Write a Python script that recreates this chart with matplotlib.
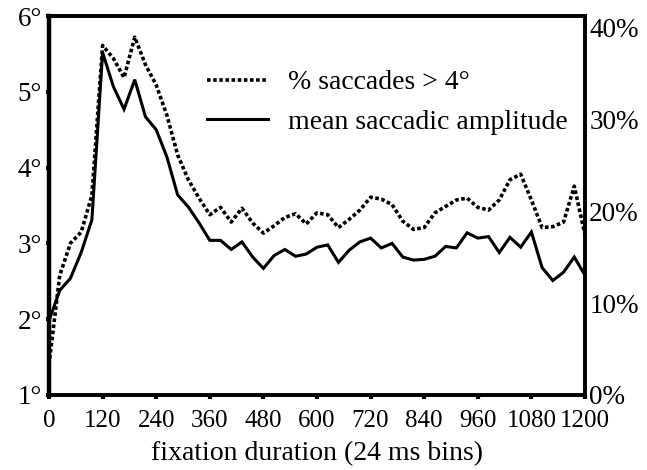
import numpy as np
import matplotlib
matplotlib.use('Agg')
import matplotlib.pyplot as plt

plt.rcParams['font.family'] = ['Liberation Serif', 'DejaVu Serif']

# 24 ms bins, 0 .. 1200 ms
bins = np.arange(0, 1201, 24)

# mean saccadic amplitude (degrees, left axis)
mean_amp = [1.98, 2.38, 2.54, 2.88, 3.31, 5.52, 5.07, 4.77, 5.16, 4.67,
            4.50, 4.14, 3.64, 3.48, 3.27, 3.04, 3.04, 2.92, 3.02, 2.82,
            2.67, 2.84, 2.92, 2.83, 2.86, 2.95, 2.98, 2.75, 2.91, 3.02,
            3.07, 2.94, 3.00, 2.82, 2.78, 2.79, 2.83, 2.96, 2.94, 3.14,
            3.07, 3.09, 2.88, 3.08, 2.95, 3.15, 2.68, 2.51, 2.62, 2.82,
            2.58]

# % saccades > 4 deg (right axis)
pct_big = [3.3, 13.0, 16.5, 17.7, 21.7, 38.0, 36.6, 34.5, 38.9, 35.9,
           33.7, 30.4, 26.1, 23.4, 21.4, 19.6, 20.4, 18.8, 20.3, 18.7,
           17.6, 18.4, 19.3, 19.7, 18.6, 19.8, 19.6, 18.2, 19.1, 20.1,
           21.5, 21.3, 20.7, 18.9, 18.0, 18.2, 19.8, 20.5, 21.2, 21.4,
           20.4, 20.1, 21.2, 23.4, 24.0, 21.2, 18.2, 18.3, 18.8, 22.7,
           17.4]

xticks = list(range(0, 1201, 120))
left_ticks = [1, 2, 3, 4, 5, 6]
right_ticks = [0, 10, 20, 30, 40]

fig = plt.figure(figsize=(6.47, 4.70), dpi=100)
ax = fig.add_axes([49 / 647, 1 - 395 / 470, 536 / 647, 379 / 470])
ax2 = ax.twinx()

l_amp, = ax.plot(bins, mean_amp, color='black', lw=2.2, solid_joinstyle='miter')
l_pct, = ax2.plot(bins, pct_big, color='black', lw=2.6,
                  linestyle=(0, (1, 0.7)), dash_capstyle='butt')

ax.set_xlim(0, 1200)
ax.set_ylim(1, 6)
ax2.set_ylim(0, 41.2)

ax.set_xticks(xticks)
ax.set_xticklabels([str(t) for t in xticks], fontsize=18)
ax.set_yticks(left_ticks)
ax.set_yticklabels([f'{t}°' for t in left_ticks], fontsize=19.5)
ax2.set_yticks(right_ticks)
ax2.set_yticklabels([f'{t}%' for t in right_ticks], fontsize=19.5)

ax.tick_params(axis='x', direction='out', length=3, width=3, pad=8)
ax.tick_params(axis='y', direction='out', length=2, width=3, pad=3)
ax2.tick_params(axis='y', direction='out', length=0, width=3, pad=3)

for a in (ax, ax2):
    for s in a.spines.values():
        s.set_linewidth(2.6)
ax.spines['left'].set_linewidth(3.2)

ax.set_xlabel('fixation duration (24 ms bins)', fontsize=20, labelpad=6)

ax2.legend([l_pct, l_amp], ['% saccades > 4°', 'mean saccadic amplitude'],
           loc='center left', bbox_to_anchor=(0.295, 0.772), frameon=False,
           fontsize=20, handlelength=2.2, handletextpad=0.72,
           labelspacing=0.5, borderpad=0, borderaxespad=0)

fig.savefig('out.png', dpi=100)
